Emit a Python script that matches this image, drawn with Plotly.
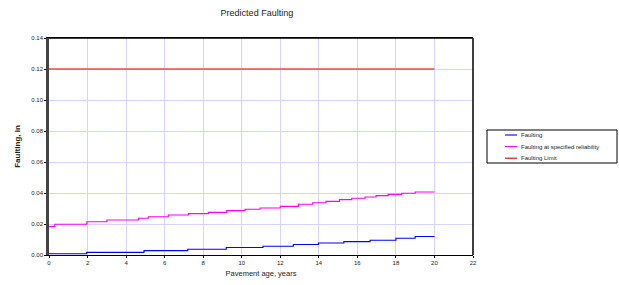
import plotly.graph_objects as go

# Faulting (step breakpoints, years) and values (in)
fault_age = [0, 1.95, 4.93, 7.2, 9.2, 11.1, 12.68, 13.98, 15.3, 16.66, 18.0, 19.0, 20]
fault_val = [0.0008, 0.0017, 0.0028, 0.0037, 0.0048, 0.0056, 0.0068, 0.0077, 0.0086, 0.0095, 0.0108, 0.0119, 0.0119]

rel_age = [0, 0.3, 1.96, 3.0, 4.64, 5.15, 6.19, 7.23, 8.27, 9.22, 10.17, 10.95, 12.0, 12.94, 13.68,
           14.37, 15.07, 15.71, 16.4, 16.97, 17.6, 18.3, 19.0, 20]
rel_val = [0.0183, 0.0198, 0.0215, 0.0226, 0.0237, 0.0247, 0.0258, 0.0267, 0.0275, 0.0286, 0.0295,
           0.0303, 0.0314, 0.0327, 0.0337, 0.0346, 0.0357, 0.0366, 0.0374, 0.0383, 0.0391, 0.0398,
           0.0406, 0.0406]

limit_age = [0, 20]
limit_val = [0.12, 0.12]

series_names = ["Faulting", "Faulting at specified reliability", "Faulting Limit"]
series_colors = ["#0000FF", "#FF00FF", "#DD0000"]

x_ticks = list(range(0, 23, 2))
y_ticks = [0.00, 0.02, 0.04, 0.06, 0.08, 0.10, 0.12, 0.14]

fig = go.Figure()
for xs, ys, name, col, shape in [(fault_age, fault_val, series_names[0], series_colors[0], "hv"),
                                 (rel_age, rel_val, series_names[1], series_colors[1], "hv"),
                                 (limit_age, limit_val, series_names[2], series_colors[2], "linear")]:
    fig.add_trace(go.Scatter(x=xs, y=ys, mode="lines", line_shape=shape,
                             line=dict(color=col, width=1.1), name=name, showlegend=False))

font = "Liberation Sans, Arial, sans-serif"
fig.update_layout(
    width=619, height=285,
    margin=dict(l=49, r=146, t=38, b=30, autoexpand=False),
    paper_bgcolor="white", plot_bgcolor="white",
    title=dict(text="Predicted Faulting", x=0.415, xanchor="center", y=0.955, yanchor="middle",
               font=dict(family=font, size=9, color="#222")),
    xaxis=dict(range=[0, 22], tickvals=x_ticks, ticktext=[str(v) for v in x_ticks],
               showgrid=True, gridcolor="#D4D4FF", gridwidth=1,
               showline=True, linecolor="black", linewidth=1, mirror=True,
               ticks="outside", ticklen=2, tickcolor="black",
               tickfont=dict(family=font, size=6, color="#222"),
               title=dict(text="Pavement age, years", font=dict(family=font, size=7.5, color="#222"), standoff=5),
               zeroline=False),
    yaxis=dict(range=[0, 0.14], tickvals=y_ticks, ticktext=["%.2f" % v for v in y_ticks],
               showgrid=True, gridcolor="#D4D4FF", gridwidth=1,
               showline=True, linecolor="#444", linewidth=2.5, mirror=False,
               ticks="outside", ticklen=2, tickcolor="black",
               tickfont=dict(family=font, size=6, color="#222"),
               title=dict(text="<b>Faulting, in</b>", font=dict(family=font, size=8, color="#222"), standoff=10),
               zeroline=False),
    showlegend=False,
)
# top and right black border
fig.add_shape(type="line", xref="paper", yref="paper", x0=0, x1=1, y0=1, y1=1,
              line=dict(color="black", width=1.5))
fig.add_shape(type="line", xref="paper", yref="paper", x0=1, x1=1, y0=0, y1=1,
              line=dict(color="black", width=1.5))

# manual legend (pixel -> paper conversion)
def px(x):
    return (x - 49) / 424.0

def py(y):
    return (255 - y) / 217.0

fig.add_shape(type="rect", xref="paper", yref="paper", x0=px(487), x1=px(617), y0=py(163), y1=py(130),
              line=dict(color="black", width=1), fillcolor="white")
for i, (name, col) in enumerate(zip(series_names, series_colors)):
    yy = 135 + i * 11.6
    fig.add_shape(type="line", xref="paper", yref="paper", x0=px(505), x1=px(517), y0=py(yy), y1=py(yy),
                  line=dict(color=col, width=1.1))
    fig.add_annotation(xref="paper", yref="paper", x=px(519), y=py(yy), text=name, showarrow=False,
                       xanchor="left", yanchor="middle", font=dict(family=font, size=6, color="#222"))

fig.write_html("out.html")
